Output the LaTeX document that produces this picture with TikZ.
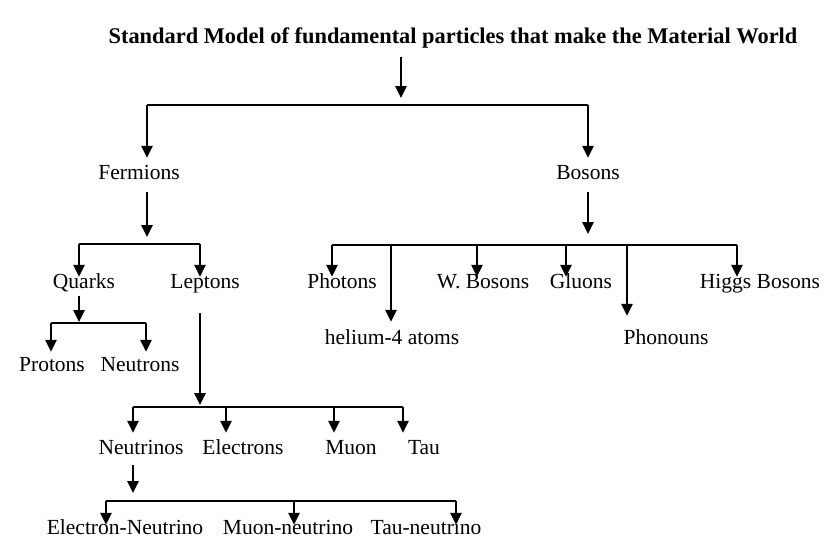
\documentclass[tikz,border=0pt]{standalone}
\usepackage{fontspec}
\setmainfont{Liberation Serif}
\usetikzlibrary{arrows.meta, positioning}

\begin{document}
\begin{tikzpicture}[x=1pt, y=-1pt,
    label/.style={inner sep=0pt, font=\fontsize{21.5}{24}\selectfont, text height=15pt, text depth=5pt},
    arr/.style={line width=2.6pt, -{Triangle[length=12pt,width=11pt]}},
    bar/.style={line width=2.4pt}]
    \useasboundingbox (0,0) rectangle (836,558);

    % Title
    \node[label, font=\fontsize{22.4}{26}\selectfont\bfseries] (title) at (453,38) {Standard Model of fundamental particles that make the Material World};

    % Particle names
    \node[label] (fermions) at (139,174) {Fermions};
    \node[label] (bosons) at (588,174) {Bosons};
    \node[label] (quarks) at (84,283) {Quarks};
    \node[label] (leptons) at (205,283) {Leptons};
    \node[label] (protons) at (52,366) {Protons};
    \node[label] (neutrons) at (140,366) {Neutrons};
    \node[label] (neutrinos) at (141,449) {Neutrinos};
    \node[label] (electrons) at (243,449) {Electrons};
    \node[label] (muon) at (351,449) {Muon};
    \node[label] (tau) at (424,449) {Tau};
    \node[label] (eneutrino) at (125,529) {Electron-Neutrino};
    \node[label] (mneutrino) at (288,529) {Muon-neutrino};
    \node[label] (tneutrino) at (426,529) {Tau-neutrino};
    \node[label] (photons) at (342,283) {Photons};
    \node[label] (helium) at (392,339) {helium-4 atoms};
    \node[label] (wbosons) at (483,283) {W. Bosons};
    \node[label] (gluons) at (581,283) {Gluons};
    \node[label] (phonouns) at (666,339) {Phonouns};
    \node[label] (higgs) at (760,283) {Higgs Bosons};

    % Levels of the branching bars
    \coordinate (topbar) at (0,105);
    \coordinate (fbar) at (0,244);
    \coordinate (bbar) at (0,245);
    \coordinate (qbar) at (0,323);
    \coordinate (lbar) at (0,407);
    \coordinate (nbar) at (0,501);

    % Arrows down to the bars
    \draw[arr, shorten >=7pt] ([xshift=-52,yshift=-9]title.south) -- ([xshift=-52]title.south |- topbar);
    \draw[arr, shorten >=7pt] ([xshift=8,yshift=-8]fermions.south) -- ([xshift=8]fermions.south |- fbar);
    \draw[arr, shorten >=11pt] ([yshift=-8]bosons.south) -- (bosons.south |- bbar);
    \draw[arr, shorten >=1pt] ([xshift=-5,yshift=-3]quarks.south) -- ([xshift=-5]quarks.south |- qbar);
    \draw[arr, shorten >=2pt] ([xshift=-5,yshift=-20]leptons.south) -- ([xshift=-5]leptons.south |- lbar);
    \draw[arr, shorten >=8pt] ([xshift=-8,yshift=-6]neutrinos.south) -- ([xshift=-8]neutrinos.south |- nbar);

    % Bars
    \draw[bar] ([xshift=8]fermions.north |- topbar) -- (bosons.north |- topbar);
    \draw[bar] ([xshift=-5]quarks.north |- fbar) -- ([xshift=-5]leptons.north |- fbar);
    \draw[bar] ([xshift=-10]photons.north |- bbar) -- ([xshift=-23]higgs.north |- bbar);
    \draw[bar] ([xshift=-1]protons.north |- qbar) -- ([xshift=6]neutrons.north |- qbar);
    \draw[bar] ([xshift=-8]neutrinos.north |- lbar) -- ([xshift=-21]tau.north |- lbar);
    \draw[bar] ([xshift=-19]eneutrino.north |- nbar) -- ([xshift=30]tneutrino.north |- nbar);

    % Arrows from the bars
    \foreach \n/\dx/\dy in {fermions/8/6, bosons/0/6}
        \draw[arr] ([xshift=\dx]\n.north |- topbar) -- ([xshift=\dx,yshift=\dy]\n.north);
    \foreach \n/\dx/\dy in {quarks/-5/-4, leptons/-5/-4}
        \draw[arr] ([xshift=\dx]\n.north |- fbar) -- ([xshift=\dx,yshift=\dy]\n.north);
    \foreach \n/\dx/\dy in {photons/-10/-4, helium/-1/7, wbosons/-6/-4, gluons/-15/-4, phonouns/-39/13, higgs/-23/-4}
        \draw[arr] ([xshift=\dx]\n.north |- bbar) -- ([xshift=\dx,yshift=\dy]\n.north);
    \foreach \n/\dx/\dy in {protons/-1/4, neutrons/6/4}
        \draw[arr] ([xshift=\dx]\n.north |- qbar) -- ([xshift=\dx,yshift=\dy]\n.north);
    \foreach \n/\dx/\dy in {neutrinos/-8/6, electrons/-17/6, muon/-17/6, tau/-21/6}
        \draw[arr] ([xshift=\dx]\n.north |- lbar) -- ([xshift=\dx,yshift=\dy]\n.north);
    \foreach \n/\dx/\dy in {eneutrino/-19/-6, mneutrino/6/-6, tneutrino/30/-6}
        \draw[arr] ([xshift=\dx]\n.north |- nbar) -- ([xshift=\dx,yshift=\dy]\n.north);
\end{tikzpicture}
\end{document}
